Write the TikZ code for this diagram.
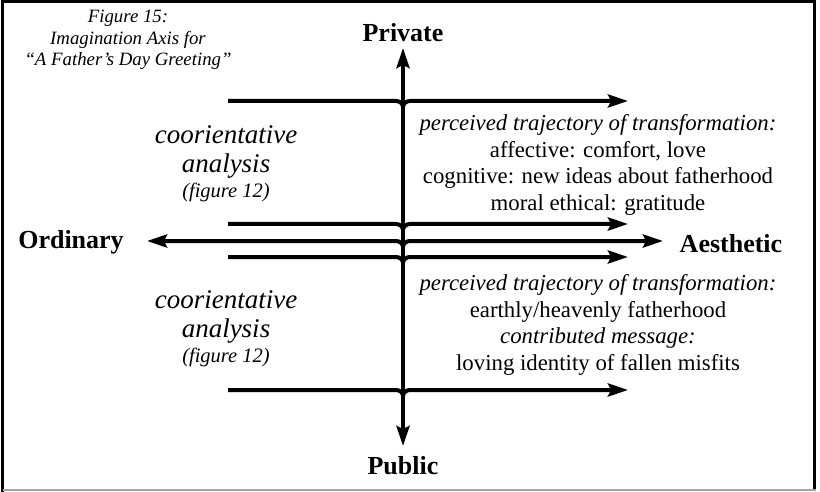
\documentclass[tikz,border=0pt]{standalone}
\usepackage{fontspec}
\setmainfont{Liberation Serif}
\usetikzlibrary{arrows.meta}

\tikzset{
  ax/.style={line width=4pt, line cap=butt,
    arrows={-Stealth[length=20pt,width=13pt,inset=3pt]}},
  axboth/.style={ax, arrows={Stealth[length=20pt,width=13pt,inset=3pt]-Stealth[length=20pt,width=13pt,inset=3pt]}},
  pole/.style={font=\fontsize{26}{30}\selectfont\bfseries, inner sep=0pt},
  body/.style={font=\fontsize{22.8}{26.6}\selectfont, align=center, inner sep=0pt},
  coor/.style={font=\fontsize{27}{31}\selectfont\itshape, inner sep=0pt},
  figref/.style={font=\fontsize{20.5}{24}\selectfont\itshape, inner sep=0pt},
  caption/.style={font=\fontsize{18.8}{21.8}\selectfont\itshape, align=center, inner sep=0pt}
}

% horizontal arrow with a small hop where it meets the vertical axis
\newcommand{\hoparrow}[4]{% style, left x, y, right x
  \draw[#1] (#2,#3) -- (396,#3) to[out=0,in=90] (403,#3+6)
     to[out=90,in=180] (410,#3) -- (#4,#3);}

\begin{document}
\begin{tikzpicture}[x=1pt,y=-1pt]
  \useasboundingbox (0,0) rectangle (820,492);
  % frame
  \draw[line width=3pt] (2.5,492) -- (2.5,1.5) -- (814,1.5) -- (814,490);
  \draw[line width=2pt, gray!70] (2.5,490) -- (815.5,490);

  % caption
  \node[caption] (cap) at (128,40) {Figure 15:\\Imagination Axis for\\“A Father’s Day Greeting”};

  % vertical axis
  \coordinate (top) at (403,48);
  \coordinate (bot) at (403,446);
  \node[pole] (private) at (403,33) {Private};
  \node[pole] (public) at (403,466) {Public};
  \draw[axboth] (top) -- (bot);

  % horizontal lines
  \hoparrow{ax}{228}{101}{628}
  \hoparrow{ax}{228}{224}{628}
  \hoparrow{axboth}{147}{241}{663}
  \hoparrow{ax}{228}{257}{628}
  \hoparrow{ax}{228}{390}{628}

  \node[pole] (ordinary) at (71,242) {Ordinary};
  \node[pole] (aesthetic) at (731,244) {Aesthetic};

  % left labels
  \node[coor] (c1a) at (226,135) {coorientative};
  \node[coor] (c1b) at (226,166) {analysis};
  \node[figref] (c1c) at (226,192) {(figure 12)};
  \node[coor] (c2a) at (226,300) {coorientative};
  \node[coor] (c2b) at (226,331) {analysis};
  \node[figref] (c2c) at (226,357) {(figure 12)};

  % right labels
  \node[body] (r1) at (598,165) {\textit{perceived trajectory of transformation:}\\affective: comfort, love\\cognitive: new ideas about fatherhood\\moral ethical: gratitude};
  \node[body] (r2) at (598,325) {\textit{perceived trajectory of transformation:}\\earthly/heavenly fatherhood\\\textit{contributed message:}\\loving identity of fallen misfits};
\end{tikzpicture}
\end{document}
